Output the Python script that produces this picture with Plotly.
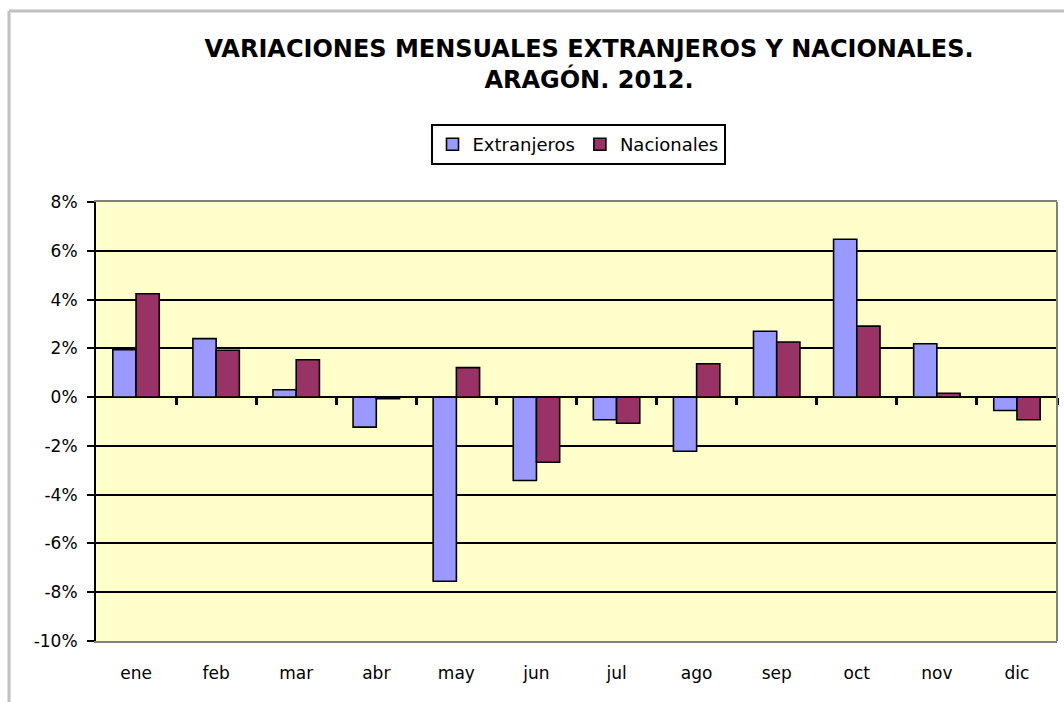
import plotly.graph_objects as go

months = ["ene", "feb", "mar", "abr", "may", "jun", "jul", "ago", "sep", "oct", "nov", "dic"]
extranjeros = [1.94, 2.40, 0.30, -1.23, -7.55, -3.42, -0.93, -2.22, 2.70, 6.47, 2.19, -0.55]
nacionales = [4.24, 1.92, 1.53, -0.07, 1.21, -2.67, -1.07, 1.37, 2.26, 2.91, 0.16, -0.93]
y_ticks = [-10, -8, -6, -4, -2, 0, 2, 4, 6, 8]
y_ticktext = ["-10%", "-8%", "-6%", "-4%", "-2%", "0%", "2%", "4%", "6%", "8%"]
boundaries = [0.5, 1.5, 2.5, 3.5, 4.5, 5.5, 6.5, 7.5, 8.5, 9.5, 10.5, 11.5]

W, H = 1064, 702
L, R, T, B = 96, 7, 202, 61
pw, ph = W - L - R, H - T - B
ymin, ymax = -10, 8

FONT = "DejaVu Sans"

fig = go.Figure()
fig.add_trace(go.Bar(x=months, y=extranjeros, name="Extranjeros",
                     marker=dict(color="#9999FF", line=dict(color="black", width=1.6))))
fig.add_trace(go.Bar(x=months, y=nacionales, name="Nacionales",
                     marker=dict(color="#993366", line=dict(color="black", width=1.6))))
# invisible helper trace so the category-boundary tick axis gets drawn
fig.add_trace(go.Scatter(x=boundaries, y=[0] * len(boundaries), xaxis="x2", yaxis="y",
                         mode="markers", marker=dict(opacity=0, size=1),
                         hoverinfo="skip", showlegend=False))

def px_x(x):
    return (x - L) / pw

def px_y(y):
    return (H - B - y) / ph

fig.update_layout(
    width=W, height=H,
    margin=dict(l=L, r=R, t=T, b=B, pad=0),
    paper_bgcolor="white",
    plot_bgcolor="#FFFFCC",
    barmode="group",
    bargap=0.42,
    bargroupgap=0,
    font=dict(family=FONT, size=17, color="black"),
    title=dict(
        text="VARIACIONES MENSUALES EXTRANJEROS Y NACIONALES.<br>ARAGÓN. 2012.",
        font=dict(family=FONT, size=24, color="black", weight="bold"),
        x=589 / W, xanchor="center", xref="container",
        y=1 - 56.5 / H, yanchor="middle", yref="container",
    ),
    legend=dict(
        orientation="h",
        x=px_x(578), xanchor="center",
        y=px_y(124), yanchor="top",
        bordercolor="black", borderwidth=2,
        bgcolor="white",
        font=dict(family=FONT, size=18, color="black"),
        itemclick=False, itemdoubleclick=False,
        traceorder="normal",
    ),
    showlegend=True,
    xaxis=dict(
        type="category",
        range=[-0.5, 11.5],
        showgrid=False, zeroline=False,
        showline=True, linecolor="#808080", linewidth=2, mirror=True,
        ticks="", ticklabelstandoff=16,
        tickfont=dict(family=FONT, size=17, color="black"),
        fixedrange=True,
    ),
    xaxis2=dict(
        overlaying="x", anchor="free", position=(0 - ymin) / (ymax - ymin),
        side="bottom", layer="above traces",
        range=[-0.5, 11.5], type="linear",
        tickmode="array", tickvals=boundaries,
        ticks="outside", ticklen=7, tickwidth=2.5, tickcolor="#000000",
        showticklabels=False, showgrid=False, zeroline=False, showline=False,
        fixedrange=True,
    ),
    yaxis=dict(
        range=[ymin, ymax],
        tickmode="array", tickvals=y_ticks, ticktext=y_ticktext,
        showgrid=True, gridcolor="black", gridwidth=2,
        zeroline=True, zerolinecolor="black", zerolinewidth=2,
        showline=True, linecolor="black", linewidth=2,
        ticks="outside", ticklen=7, tickwidth=2, tickcolor="black",
        ticklabelstandoff=6,
        tickfont=dict(family=FONT, size=17, color="black"),
        fixedrange=True,
    ),
    shapes=[
        dict(type="line", xref="paper", yref="paper", x0=1, x1=1, y0=0, y1=1,
             line=dict(color="#808080", width=2), layer="above"),
        dict(type="line", xref="paper", yref="paper", x0=px_x(9), x1=px_x(W + 20),
             y0=px_y(11), y1=px_y(11), line=dict(color="#C0C0C0", width=3), layer="above"),
        dict(type="line", xref="paper", yref="paper", x0=px_x(9), x1=px_x(9),
             y0=px_y(11), y1=px_y(H + 20), line=dict(color="#C0C0C0", width=3), layer="above"),
    ],
)

fig.write_html("out.html", config={"displayModeBar": False},
               post_script="document.body.style.margin='0';document.body.style.overflow='hidden';")
